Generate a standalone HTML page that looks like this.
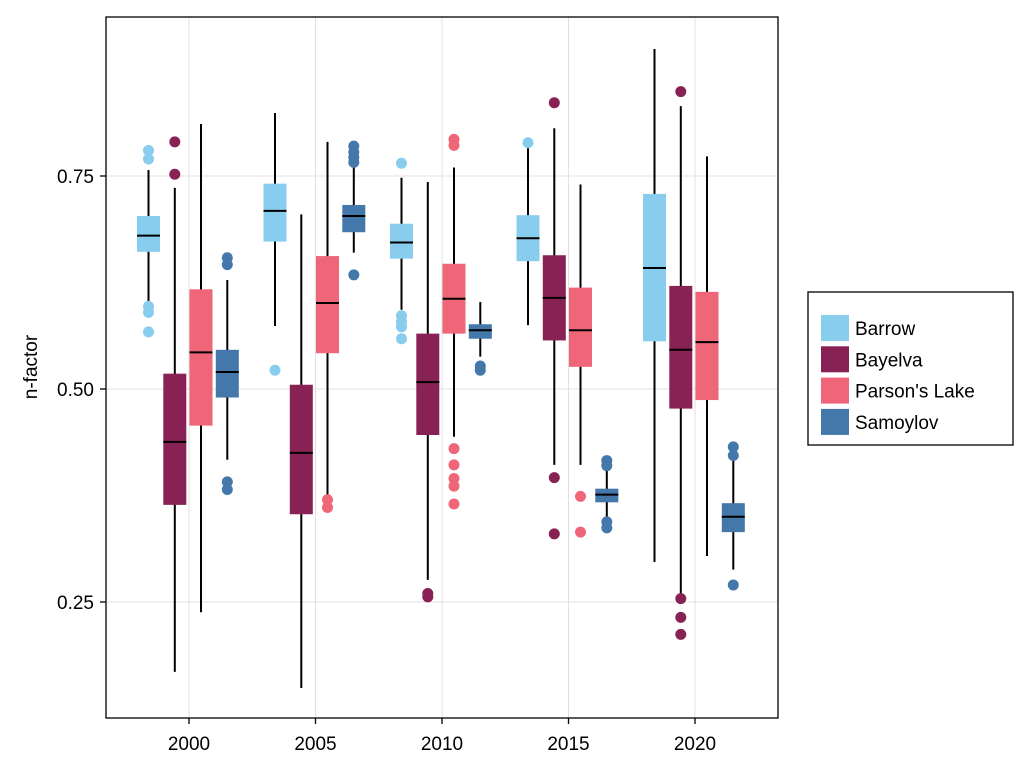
<!DOCTYPE html>
<html><head><meta charset="utf-8"><style>
body{margin:0;background:#fff;}
svg{display:block;font-family:"Liberation Sans",sans-serif;}
</style></head><body>
<svg id="chart" width="1033" height="773" viewBox="0 0 1033 773"></svg>
<script>
const years=[2000,2005,2010,2015,2020];
const sites=["Barrow","Bayelva","Parson's Lake","Samoylov"];
const colors=["#88CCEE","#882255","#EE6677","#4477AA"];
const yTicks=[0.25,0.50,0.75];
const yTickLabels=["0.25","0.50","0.75"];
// [lowWhisker, q1, median, q3, highWhisker] per site per year
const barrowStats=[[0.599,0.661,0.680,0.703,0.757],[0.574,0.673,0.709,0.741,0.824],[0.593,0.653,0.672,0.694,0.748],[0.575,0.650,0.677,0.704,0.785],[0.297,0.556,0.642,0.729,0.899]];
const bayelvaStats=[[0.168,0.364,0.438,0.518,0.736],[0.149,0.353,0.425,0.505,0.705],[0.276,0.446,0.508,0.565,0.743],[0.411,0.557,0.607,0.657,0.806],[0.258,0.477,0.546,0.621,0.832]];
const parsonStats=[[0.238,0.457,0.543,0.617,0.811],[0.373,0.542,0.601,0.656,0.790],[0.444,0.565,0.606,0.647,0.760],[0.411,0.526,0.569,0.619,0.740],[0.304,0.487,0.555,0.614,0.773]];
const samoylovStats=[[0.417,0.490,0.520,0.546,0.628],[0.660,0.684,0.703,0.716,0.763],[0.538,0.559,0.569,0.576,0.602],[0.346,0.367,0.376,0.383,0.421],[0.288,0.332,0.350,0.366,0.423]];
const barrowOut=[[0.78,0.77,0.597,0.59,0.567],[0.522],[0.765,0.586,0.579,0.573,0.559],[0.789],[]];
const bayelvaOut=[[0.79,0.752],[],[0.26,0.256],[0.836,0.396,0.33],[0.849,0.254,0.232,0.212]];
const parsonOut=[[],[0.37,0.361],[0.793,0.786,0.43,0.411,0.395,0.386,0.365],[0.374,0.332],[]];
const samoylovOut=[[0.654,0.646,0.391,0.382],[0.785,0.778,0.772,0.766,0.634],[0.527,0.522],[0.416,0.41,0.344,0.337],[0.432,0.422,0.27]];

const allStats=[barrowStats,bayelvaStats,parsonStats,samoylovStats];
const allOut=[barrowOut,bayelvaOut,parsonOut,samoylovOut];
const ns="http://www.w3.org/2000/svg";
const svg=document.getElementById('chart');
const L=106,R=778,T=17,B=718;
const xScale=y=>189+(y-2000)*25.3;
const yScale=v=>176-(v-0.75)*852;
const offs=[-40.5,-14.2,12,38.3];
const bw=23;
function el(t,a,p){const e=document.createElementNS(ns,t);for(const k in a)e.setAttribute(k,a[k]);(p||svg).appendChild(e);return e;}
const grid=el('g',{});


years.forEach(y=>{el('line',{x1:xScale(y),x2:xScale(y),y1:T,y2:B,stroke:'#e0e0e0','stroke-width':1},grid);});
yTicks.forEach(v=>{el('line',{x1:L,x2:R,y1:yScale(v),y2:yScale(v),stroke:'#e0e0e0','stroke-width':1},grid);});
// boxes
allStats.forEach((st,si)=>{
  const g=el('g',{});
  
  
  st.forEach((s,yi)=>{
    const cx=xScale(years[yi])+offs[si];
    el('line',{x1:cx,x2:cx,y1:yScale(s[4]),y2:yScale(s[0]),stroke:'#000','stroke-width':2},g);
    const r=el('rect',{x:cx-bw/2,y:yScale(s[3]),width:bw,height:yScale(s[1])-yScale(s[3]),fill:colors[si]},g);
    
    
    el('line',{x1:cx-bw/2,x2:cx+bw/2,y1:yScale(s[2]),y2:yScale(s[2]),stroke:'#000','stroke-width':2},g);
    allOut[si][yi].forEach(v=>{
      const c=el('circle',{cx:cx,cy:yScale(v),r:5.5,fill:colors[si]},g);
      
      
    });
  });
});
// frame
el('rect',{x:L,y:T,width:R-L,height:B-T,fill:'none',stroke:'#000','stroke-width':1.3});
years.forEach(y=>{
  el('line',{x1:xScale(y),x2:xScale(y),y1:B,y2:B+6,stroke:'#000','stroke-width':1.3});
  const t=el('text',{x:xScale(y),y:B+32,'text-anchor':'middle','font-size':19});
  t.textContent=y;
  
  
});
yTicks.forEach((v,i)=>{
  el('line',{x1:L-6,x2:L,y1:yScale(v),y2:yScale(v),stroke:'#000','stroke-width':1.3});
  const t=el('text',{x:L-12,y:yScale(v)+7,'text-anchor':'end','font-size':19});
  t.textContent=yTickLabels[i];
  
  
});
const yt=el('text',{x:37,y:367,'text-anchor':'middle','font-size':19,transform:'rotate(-90 37 367)'});
yt.textContent='n-factor';


// legend
const lg=el('g',{});


el('rect',{x:808,y:292,width:205,height:153,fill:'#fff',stroke:'#000','stroke-width':1.3},lg);
sites.forEach((s,i)=>{
  const y=328+i*31.3;
  const e=el('g',{},lg);
  
  
  el('rect',{x:821,y:y-13,width:28,height:26,fill:colors[i]},e);
  const t=el('text',{x:855,y:y+7,'font-size':19},e);
  t.textContent=s;
});
</script>
</body></html>
